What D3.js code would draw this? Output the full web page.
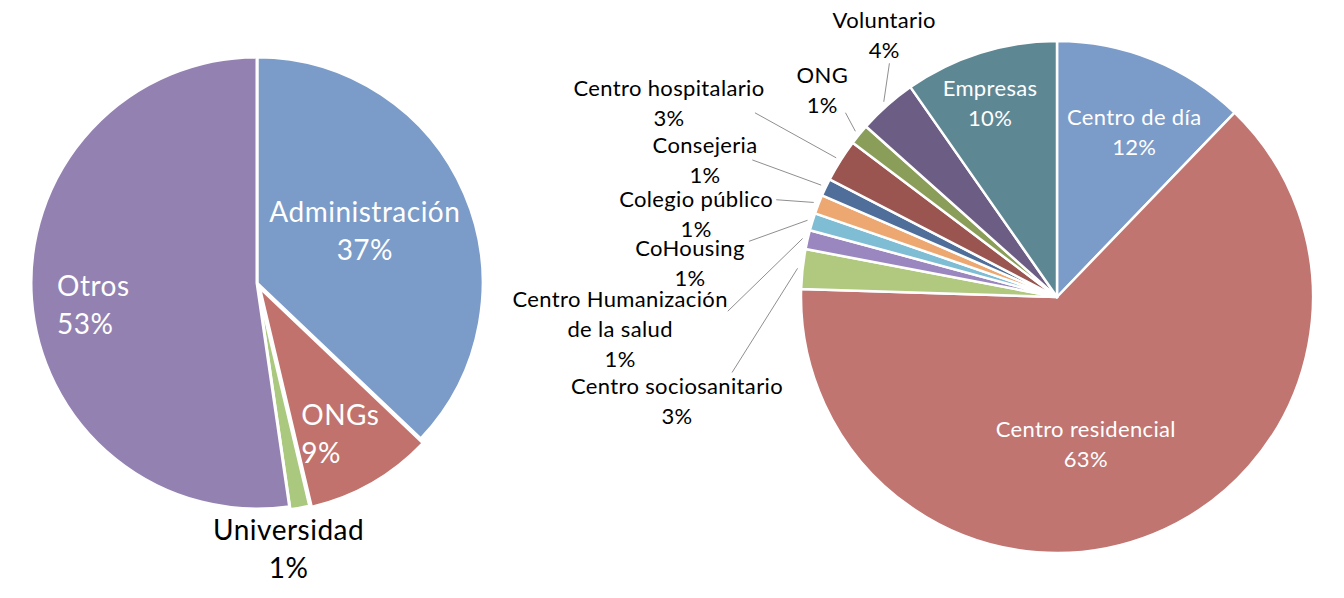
<!DOCTYPE html>
<html><head><meta charset="utf-8">
<script src="https://cdn.jsdelivr.net/npm/d3@7"></script>
<style>body{margin:0;background:#fff} text{font-family:Lato,"Open Sans",sans-serif}</style>
</head><body>
<svg id="c" width="1344" height="598"></svg>
<script>
// ---- data: left pie ----
const leftCategories = ["Administración", "ONGs", "Universidad", "Otros"];
const leftValues = [37.1, 9.2, 1.4, 52.3];
const leftLabels = ["37%", "9%", "1%", "53%"];
const leftColors = ["#7b9bc8", "#c1726d", "#aac87e", "#9382b1"];

// ---- data: right pie ----
const rightCategories = ["Centro de día", "Centro residencial", "Centro sociosanitario",
  "Centro Humanización de la salud", "CoHousing", "Colegio público", "Consejeria",
  "Centro hospitalario", "ONG", "Voluntario", "Empresas"];
const rightValues = [12.2, 63.3, 2.5, 1.2, 1.1, 1.2, 1.1, 2.7, 1.3, 3.7, 9.7];
const rightLabels = ["12%", "63%", "3%", "1%", "1%", "1%", "1%", "3%", "1%", "4%", "10%"];
const rightColors = ["#7b9bc9", "#c07571", "#b1c97f", "#9a87c0", "#7fbdd5", "#eda872",
  "#4f6f9a", "#9a5551", "#8a9e5a", "#6c5d84", "#5e8794"];

const wrapNames = {"Centro Humanización de la salud": ["Centro Humanización", "de la salud"]};

const svg = d3.select("#c");

function drawPie(cfg) {
  const arcs = d3.pie().sort(null).value(d => d)(cfg.values);
  const arc = d3.arc().innerRadius(0).outerRadius(cfg.r);
  const g = svg.append("g").attr("transform", `translate(${cfg.cx},${cfg.cy})`);
  g.selectAll("path").data(arcs).join("path")
    .attr("d", arc)
    .attr("fill", (d, i) => cfg.colors[i])
    .attr("stroke", "#fff").attr("stroke-width", cfg.sw).attr("stroke-linejoin", "round")
    .attr("transform", (d, i) => {
      const o = cfg.explode[i] || 0, a = (d.startAngle + d.endAngle) / 2;
      return `translate(${o * Math.sin(a)},${-o * Math.cos(a)})`;
    });

  arcs.forEach((d, i) => {
    const L = cfg.layout[i];
    const mid = (d.startAngle + d.endAngle) / 2;
    const a = mid + L.da * Math.PI / 180;
    const x = L.rad * Math.sin(a), y = -L.rad * Math.cos(a);
    const name = cfg.names[i];
    const lines = (wrapNames[name] || [name]).concat([cfg.labels[i]]);
    const t = g.append("text").attr("fill", L.color)
      .style("font-size", cfg.fs + "px")
      .style("letter-spacing", cfg.ls + "px")
      .attr("text-anchor", L.align === "left" ? "start" : "middle");
    const n = lines.length;
    lines.forEach((s, k) => t.append("tspan").attr("x", 0)
      .attr("y", (k - (n - 1) / 2) * cfg.lh).attr("dy", "0.35em").text(s));
    const bb = t.node().getBBox();
    const tx = x - (bb.x + bb.width / 2), ty = y - (bb.y + bb.height / 2);
    t.attr("transform", `translate(${tx},${ty})`);
    if (L.lead) {
      const px = bb.x + tx + L.lead[0] * bb.width, py = bb.y + ty + L.lead[1] * bb.height;
      const e = cfg.r + 5;
      g.insert("line", "text").attr("x1", px).attr("y1", py)
        .attr("x2", e * Math.sin(mid)).attr("y2", -e * Math.cos(mid))
        .attr("stroke", "#8f8f8f").attr("stroke-width", 1);
    }
  });
}

drawPie({
  cx: 257, cy: 283, r: 226, sw: 3, fs: 28, ls: 0.5, lh: 38,
  values: leftValues, names: leftCategories, labels: leftLabels, colors: leftColors,
  explode: [0, 5, 3, 0],
  layout: [
    {rad: 120, da: -2.8, color: "#fff", align: "center"},
    {rad: 172, da: 0.9, color: "#fff", align: "left"},
    {rad: 267, da: 4, color: "#000", align: "center"},
    {rad: 165, da: -3, color: "#fff", align: "left"}
  ]
});

drawPie({
  cx: 1057, cy: 297, r: 256, sw: 2.5, fs: 22, ls: 0.35, lh: 30,
  values: rightValues, names: rightCategories, labels: rightLabels, colors: rightColors,
  explode: [],
  layout: [
    {rad: 183, da: 3, color: "#fff"},
    {rad: 149, da: 11, color: "#fff"},
    {rad: 394, da: -21.6, color: "#000", lead: [0.76, 0]},
    {rad: 438, da: -17.1, color: "#000", lead: [1, 0.3]},
    {rad: 368.6, da: -11.8, color: "#000", lead: [1.04, 0.12]},
    {rad: 370.4, da: -8.2, color: "#000", lead: [1.02, 0.26]},
    {rad: 377.7, da: -4.1, color: "#000", lead: [0.95, 0.5]},
    {rad: 434, da: -5.6, color: "#000", lead: [0.95, 0.68]},
    {rad: 313, da: 2, color: "#000", lead: [0.95, 0.9]},
    {rad: 314, da: 8.2, color: "#000", lead: [0.55, 1]},
    {rad: 206, da: -1.5, color: "#fff"}
  ]
});
</script>
</body></html>
